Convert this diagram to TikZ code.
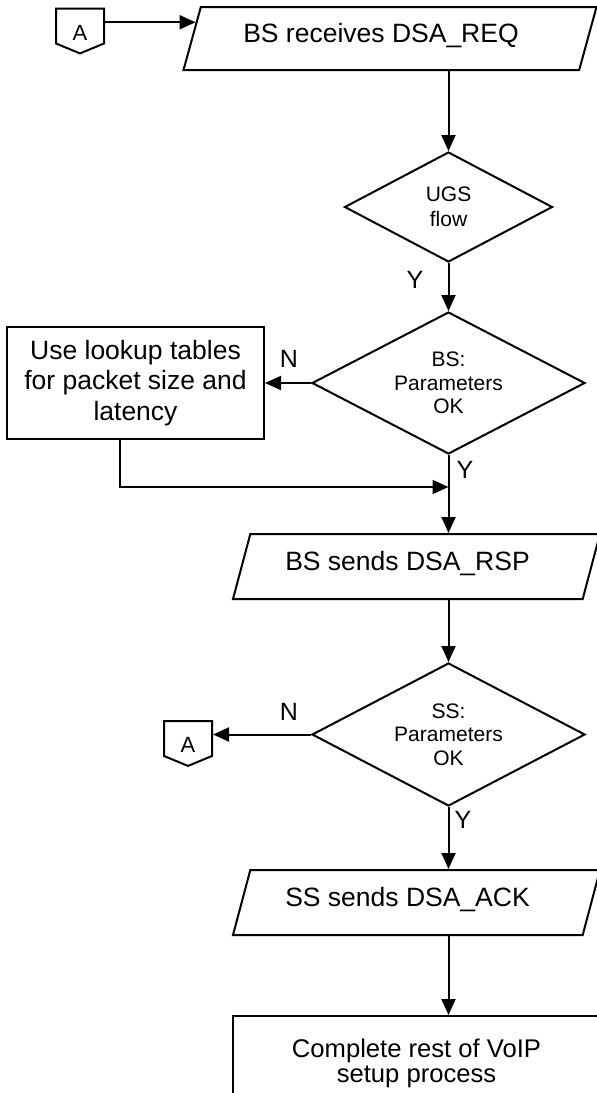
\documentclass[tikz,border=0pt]{standalone}
\usepackage{fontspec}
\setmainfont{Liberation Sans}
\usetikzlibrary{arrows.meta, shapes.geometric, shapes.symbols, calc}

\tikzset{
  flowline/.style={line width=2pt},
  flowarrow/.style={flowline, -{Triangle[length=16pt,width=14pt]}},
  iobox/.style={trapezium, trapezium left angle=60, trapezium right angle=120,
                trapezium stretches body, draw, flowline, inner sep=0pt,
                text height=19pt, text depth=11pt,
                execute at begin node=\hspace*{-18pt},
                font=\fontsize{26.5}{30.5}\selectfont},
  decision/.style={diamond, draw, flowline, aspect=1.9, inner sep=0pt,
                   align=center, font=\fontsize{21}{23.5}\selectfont},
  procbox/.style={rectangle, draw, flowline, align=center, inner sep=0pt,
                  font=\fontsize{26.5}{30.5}\selectfont},
  offpage/.style={signal, signal to=south, signal from=nowhere,
                  signal pointer angle=135, draw, flowline, inner sep=0pt,
                  minimum width=48pt, minimum height=38pt,
                  text height=29pt, text depth=1pt,
                  font=\fontsize{22}{24}\selectfont},
  branch/.style={inner sep=0pt, font=\fontsize{25}{28}\selectfont}
}

\begin{document}
\begin{tikzpicture}[x=1pt, y=-1pt]
    \useasboundingbox (0,0) rectangle (597,1093);

    % shapes
    \node[offpage] (a1) at (80,26) {A};
    \node[iobox, minimum width=413pt, minimum height=63pt] (recv) at (390,38.5) {BS receives DSA\_REQ};
    \node[decision, minimum width=208pt, minimum height=110pt,
          font=\fontsize{21}{25}\selectfont] (ugs) at (448.5,207) {UGS\\flow};
    \node[decision, minimum width=273pt, minimum height=142pt] (bsok) at (448.5,383) {BS:\\Parameters\\OK};
    \node[procbox, minimum width=257pt, minimum height=112pt] (lookup) at (135.5,383)
        {Use lookup tables\\for packet size and\\latency};
    \node[iobox, minimum width=367pt, minimum height=65pt] (rsp) at (416.5,566.5) {BS sends DSA\_RSP};
    \node[decision, minimum width=273pt, minimum height=143pt] (ssok) at (448.5,734.5) {SS:\\Parameters\\OK};
    \node[offpage] (a2) at (188,738.5) {A};
    \node[iobox, minimum width=367pt, minimum height=65pt] (ack) at (416.5,902.5) {SS sends DSA\_ACK};
    \node[procbox, minimum width=367pt, minimum height=94pt,
          font=\fontsize{25.6}{25}\selectfont] (rest) at (416.5,1063) {Complete rest of VoIP\\setup process};

    % branch labels
    \node[branch] (y1) at (415,280) {Y};
    \node[branch] (n1) at (289,359) {N};
    \node[branch] (y2) at (465,470) {Y};
    \node[branch] (n2) at (289,712) {N};
    \node[branch] (y3) at (463,820) {Y};

    % connectors
    \coordinate (in1) at ($(recv.bottom left corner)!0.75!(recv.top left corner)$);
    \coordinate (merge) at (448.5,487);
    \draw[flowarrow] (a1.east |- in1) -- (in1);
    \draw[flowarrow] (recv.south -| ugs.north) -- (ugs.north);
    \draw[flowarrow] (ugs.south) -- (bsok.north);
    \draw[flowarrow] (bsok.west) -- (lookup.east);
    \draw[flowarrow] ([xshift=-15.5pt]lookup.south) |- (merge);
    \draw[flowarrow] (bsok.south) -- (bsok.south |- rsp.north);
    \draw[flowarrow] (rsp.south -| ssok.north) -- (ssok.north);
    \draw[flowarrow] (ssok.west) -- (ssok.west -| a2.east);
    \draw[flowarrow] (ssok.south) -- (ssok.south |- ack.north);
    \draw[flowarrow] (ack.south -| ssok.south) -- (rest.north -| ssok.south);
\end{tikzpicture}
\end{document}
